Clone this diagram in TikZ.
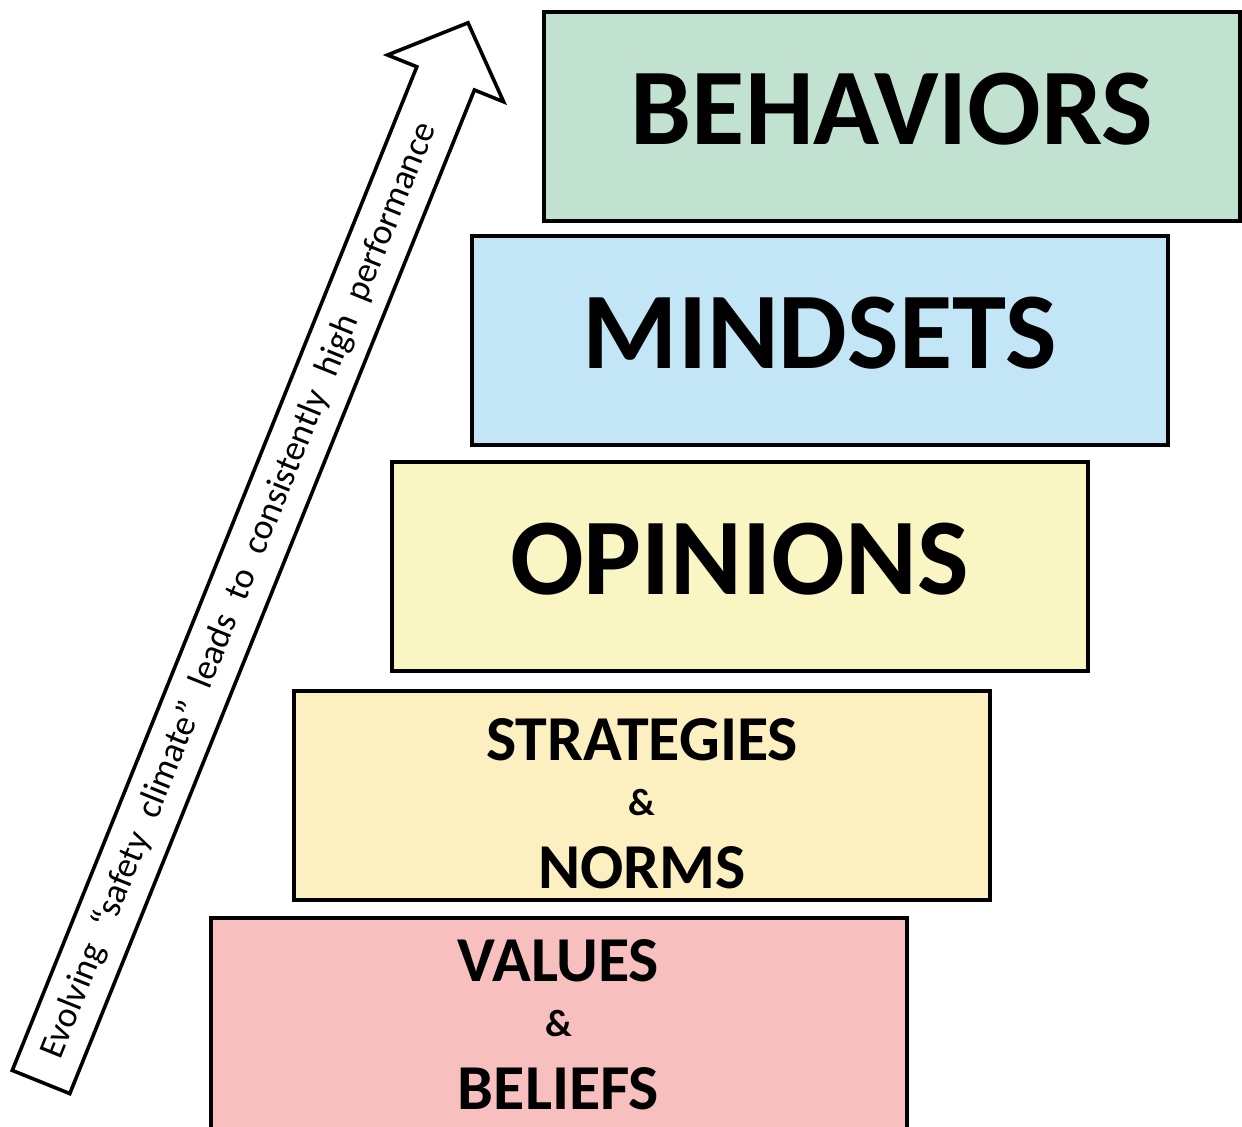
\documentclass[tikz,border=0pt]{standalone}
\usepackage{fontspec}
\setmainfont{Carlito}
\usetikzlibrary{calc}
\usetikzlibrary{positioning, shapes}
\definecolor{behavgreen}{HTML}{C2E2D1}
\definecolor{mindblue}{HTML}{C3E6F6}
\definecolor{opinyellow}{HTML}{FAF6C3}
\definecolor{stratyellow}{HTML}{FCF0C1}
\definecolor{valuepink}{HTML}{F8BFBF}
\newcommand\Twolines[2]{%
  #1\\[-4.5pt]{\fontsize{19}{32}\selectfont\&}\\[4.5pt]#2}

\begin{document}
\begin{tikzpicture}[x=0.5pt,y=-0.5pt,
level/.style={
  rectangle, draw, line width=2pt,
  minimum width=348pt, minimum height=104.5pt,
  inner sep=0pt
},
big/.style={
  level,
  font=\bfseries\fontsize{54.5}{54.5}\selectfont,
  text height=35pt, text depth=7pt
},
small/.style={
  level, align=center,
  font=\bfseries\fontsize{32}{32}\selectfont
}]
\useasboundingbox (0,0) rectangle (1242,1127);

\node (behaviors) [big, fill=behavgreen] at (892,116.5) {BEHAVIORS};
\node (mindsets) [big, fill=mindblue] at (820,340.5) {MINDSETS};
\node (opinions) [big, fill=opinyellow] at (739.5,566.5) {OPINIONS};
\node (strategies) [small, fill=stratyellow, text height=92.5pt, text depth=0pt]
  at (642,795.5) {\Twolines{STRATEGIES}{NORMS}};
\node (values) [small, fill=valuepink, minimum height=106.5pt] at (558.5,1024.5)
  {\Twolines{VALUES}{BELIEFS}};

% rising arrow
\draw[line width=1.8pt, fill=white]
  (12.3,1070.4) -- (416.8,66.8) -- (387.6,55.0) -- (468,22.8)
  -- (503.6,101.8) -- (474.4,90.0) -- (69.8,1093.6) -- cycle;
\node (climate) [rotate=68.04, inner sep=0pt,
  font=\fontsize{18}{18}\selectfont] at (239.2,590.4)
  {\makebox[503pt][s]{Evolving “safety climate” leads to consistently high performance}};
\end{tikzpicture}
\end{document}
